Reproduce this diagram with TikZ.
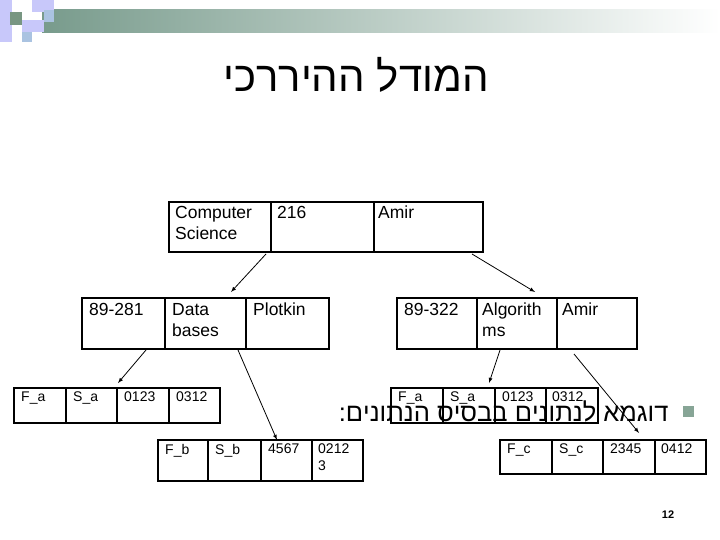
\documentclass[tikz,border=0pt]{standalone}
\usepackage{fontspec}
\setmainfont{Liberation Sans}
\TeXXeTstate=1
\definecolor{hg}{RGB}{120,155,140}
\definecolor{lp}{RGB}{200,200,250}
\definecolor{gs}{RGB}{120,150,130}
\definecolor{lb}{RGB}{170,195,225}
\definecolor{bul}{RGB}{135,165,150}
\begin{document}
\begin{tikzpicture}[x=1pt,y=-1pt,
  big/.style={font=\fontsize{17.5}{21}\selectfont,anchor=north west,align=left,inner sep=0pt},
  small/.style={font=\fontsize{14}{17}\selectfont,anchor=north west,align=left,inner sep=0pt},
  arr/.style={-latex,line width=0.8pt}]
\useasboundingbox (0,0) rectangle (720,540);
% header decoration
\shade[left color=hg,right color=white] (42,10) rectangle (720,33);
\fill[lp] (0,0) rectangle (12,42);
\fill[gs] (10,12) rectangle (22,25);
\fill[lp] (32,0) rectangle (54,12);
\fill[lb] (44,10) rectangle (54,22);
\fill[lp] (22,20) rectangle (44,32);
\fill[lb] (22,32) rectangle (32,42);
% title
\node[font=\fontsize{42}{46}\selectfont] (title) at (356,75) {\beginR המודל ההיררכי\endR};
% top
\draw[line width=1.3pt] (169,202) rectangle (483,252) (271,202)--(271,252) (374,202)--(374,252);
\node[big] (t1) at (175,206) {Computer\\Science};
\node[big] (t2) at (277,206) {216};
\node[big] (t3) at (378,206) {Amir};
% mid left
\draw[line width=1.3pt] (82,298) rectangle (329,349) (165,298)--(165,349) (246,298)--(246,349);
\node[big] (l1) at (89,303) {89-281};
\node[big] (l2) at (172,303) {Data\\bases};
\node[big] (l3) at (253,303) {Plotkin};
% mid right
\draw[line width=1.3pt] (397,298) rectangle (637,349) (477,298)--(477,349) (557,298)--(557,349);
\node[big] (r1) at (404,303) {89-322};
\node[big] (r2) at (482,303) {Algorith\\ms};
\node[big] (r3) at (562,303) {Amir};
% leaf a
\draw[line width=1.3pt] (14,388) rectangle (220,423) (66,388)--(66,423) (117,388)--(117,423) (169,388)--(169,423);
\node[small] (a1) at (21,392) {F\_a};
\node[small] (a2) at (73,392) {S\_a};
\node[small] (a3) at (124,392) {0123};
\node[small] (a4) at (176,392) {0312};
% leaf b
\draw[line width=1.3pt] (158,440) rectangle (363,481) (208,440)--(208,481) (261,440)--(261,481) (312,440)--(312,481);
\node[small] (b1) at (165,444) {F\_b};
\node[small] (b2) at (215,444) {S\_b};
\node[small] (b3) at (268,444) {4567};
\node[small] (b4) at (318,444) {0212\\3};
% leaf a2
\draw[line width=1.3pt] (391,388) rectangle (598,423) (443,388)--(443,423) (495,388)--(495,423) (546,388)--(546,423);
\node[small] (c1) at (398,392) {F\_a};
\node[small] (c2) at (450,392) {S\_a};
\node[small] (c3) at (502,392) {0123};
\node[small] (c4) at (552,392) {0312};
% leaf c
\draw[line width=1.3pt] (500,440) rectangle (706,474) (552,440)--(552,474) (603,440)--(603,474) (655,440)--(655,474);
\node[small] (d1) at (507,444) {F\_c};
\node[small] (d2) at (559,444) {S\_c};
\node[small] (d3) at (610,444) {2345};
\node[small] (d4) at (661,444) {0412};
% arrows
\coordinate (p1) at (266,254); \coordinate (q1) at (231,292);
\coordinate (p2) at (472,254); \coordinate (q2) at (535,292);
\coordinate (p3) at (146,350); \coordinate (q3) at (118,383);
\coordinate (p4) at (238,350); \coordinate (q4) at (277,440);
\coordinate (p5) at (500,350); \coordinate (q5) at (489,383);
\coordinate (p6) at (574,354); \coordinate (q6) at (639,433);
\foreach \i in {1,...,6} \draw[arr] (p\i) -- (q\i);
% bullet text
\fill[bul] (683,406) rectangle (694,417);
\node[font=\fontsize{25.5}{30}\selectfont,anchor=east] (bt) at (672,411) {\beginR דוגמא לנתונים בבסיס הנתונים:\endR};
\node[font=\bfseries\fontsize{11}{13}\selectfont] (pg) at (668,515) {12};
\end{tikzpicture}
\end{document}
